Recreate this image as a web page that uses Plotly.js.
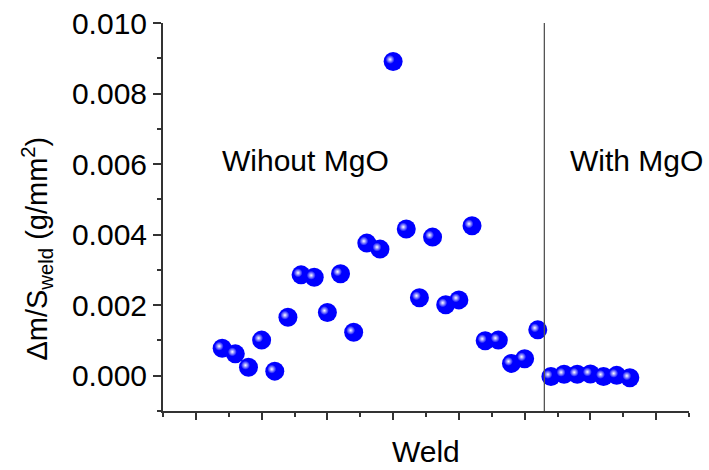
<!DOCTYPE html>
<html>
<head>
<meta charset="utf-8">
<script src="https://cdn.plot.ly/plotly-3.0.1.min.js"></script>
<style>
  html, body { margin: 0; padding: 0; background: #fff; }
  #chart { width: 709px; height: 470px; }
  /* nudge the specular highlight toward the upper-left of each sphere */
  .highlight-shift .scatterlayer .trace:nth-child(2) .points { transform: translate(-3px, -2px); }
</style>
</head>
<body>
<div id="chart" class="highlight-shift"></div>
<script>
// Weld index and mass change per weld area (g/mm^2)
const weldNoMgO = [2, 3, 4, 5, 6, 7, 8, 9, 10, 11, 12, 13, 14, 15, 16, 17, 18, 19, 20, 21, 22, 23, 24, 25, 26];
const dmNoMgO = [0.00078, 0.00062, 0.00024, 0.00101, 0.00013, 0.00166, 0.00286, 0.00279, 0.00179,
                 0.00289, 0.00123, 0.00376, 0.00359, 0.00891, 0.00416, 0.00221, 0.00393, 0.00201,
                 0.00215, 0.00425, 0.00099, 0.00101, 0.00035, 0.00048, 0.00130];

const weldMgO = [27, 28, 29, 30, 31, 32, 33];
const dmMgO = [-0.00002, 0.00004, 0.00004, 0.00005, -0.00002, 0.00001, -0.00006];

const groupLabels = ['Wihout MgO', 'With MgO'];

const allWeld = weldNoMgO.concat(weldMgO);
const allDm = dmNoMgO.concat(dmMgO);

// divider sits halfway between the two groups
const divider = (weldNoMgO[weldNoMgO.length - 1] + weldMgO[0]) / 2;

const FONT = 'Liberation Sans, Arial, sans-serif';
const AXIS = '#333333';

const spheres = {
  type: 'scatter', mode: 'markers',
  x: allWeld, y: allDm,
  marker: { size: 19, color: '#0000ff', line: { width: 0 } },
  hoverinfo: 'x+y', showlegend: false
};
const shine = {
  type: 'scatter', mode: 'markers',
  x: allWeld, y: allDm,
  marker: { size: 9, color: '#0000ff', gradient: { type: 'radial', color: '#ffffff' }, line: { width: 0 } },
  hoverinfo: 'skip', showlegend: false
};

const layout = {
  width: 709, height: 470,
  margin: { l: 163, r: 20, t: 23, b: 59 },
  paper_bgcolor: '#ffffff', plot_bgcolor: '#ffffff',
  font: { family: FONT, size: 30, color: '#000' },
  xaxis: {
    range: [-2.5, 37.5], showgrid: false, zeroline: false,
    showline: true, linecolor: AXIS, linewidth: 2,
    ticks: 'outside', ticklen: 7, tickwidth: 2, tickcolor: AXIS,
    tick0: 0, dtick: 5, showticklabels: false,
    minor: { ticks: 'outside', ticklen: 4, tickwidth: 2, tickcolor: AXIS, tick0: 0, dtick: 2.5 }
  },
  yaxis: {
    range: [-0.001, 0.010], showgrid: false, zeroline: false,
    showline: true, linecolor: AXIS, linewidth: 2,
    ticks: 'outside', ticklen: 8, tickwidth: 2, tickcolor: AXIS,
    tick0: 0, dtick: 0.002, tickformat: '.3f',
    tickfont: { family: FONT, size: 30, color: '#000' },
    minor: { ticks: 'outside', ticklen: 4, tickwidth: 2, tickcolor: AXIS, tick0: 0, dtick: 0.001 }
  },
  shapes: [{
    type: 'line', xref: 'x', yref: 'paper',
    x0: divider, x1: divider, y0: 0, y1: 1,
    line: { color: '#555555', width: 1.3 }
  }],
  annotations: [
    { text: groupLabels[0], xref: 'paper', yref: 'paper', x: 0.108, y: 0.645,
      xanchor: 'left', yanchor: 'middle', showarrow: false, font: { family: FONT, size: 30 } },
    { text: groupLabels[1], xref: 'paper', yref: 'paper', x: 0.77, y: 0.645,
      xanchor: 'left', yanchor: 'middle', showarrow: false, font: { family: FONT, size: 30 } },
    { text: 'Weld', xref: 'paper', yref: 'paper', x: 0.5, y: -0.105,
      xanchor: 'center', yanchor: 'middle', showarrow: false, font: { family: FONT, size: 30 } },
    { text: 'Δm/S<sub>weld</sub> (g/mm<sup>2</sup>)', xref: 'paper', yref: 'paper', x: -0.24, y: 0.418,
      xanchor: 'center', yanchor: 'middle', textangle: -90, showarrow: false, font: { family: FONT, size: 29 } }
  ]
};

Plotly.newPlot('chart', [spheres, shine], layout, { displayModeBar: false, staticPlot: true });
</script>
</body>
</html>
